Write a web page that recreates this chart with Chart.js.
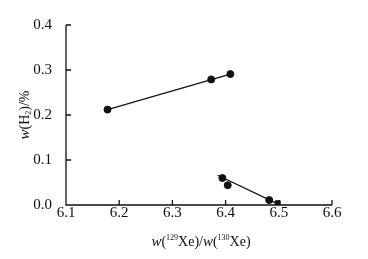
<!DOCTYPE html>
<html>
<head>
<meta charset="utf-8">
<script src="https://cdn.jsdelivr.net/npm/chart.js@4/dist/chart.umd.min.js"></script>
<style>
  html, body { margin: 0; padding: 0; background: #fff; }
  #wrap { width: 368px; height: 259px; }
</style>
</head>
<body>
<div id="wrap"><canvas id="c"></canvas></div>
<script>
// values
const upperX = [6.178, 6.373, 6.409];
const upperY = [0.212, 0.279, 0.291];
const lowerX = [6.394, 6.404, 6.482];
const lowerY = [0.060, 0.044, 0.011];
const squareX = [6.498];
const squareY = [0.004];
const upperFitX = [6.178, 6.409];
const upperFitY = [0.212, 0.291];
const lowerFitX = [6.385, 6.499];
const lowerFitY = [0.066, 0.002];
const xTicks = [6.1, 6.2, 6.3, 6.4, 6.5, 6.6];
const yTicks = [0.0, 0.1, 0.2, 0.3, 0.4];

const FONT = '"Liberation Serif", "DejaVu Serif", serif';
const pts = (xs, ys) => xs.map((x, i) => ({ x, y: ys[i] }));

// ticks point into the plot, axis titles mix italic and roman
const decor = {
  id: 'decor',
  afterDraw(chart) {
    const { ctx, chartArea: a, scales: { x, y } } = chart;
    ctx.save();
    ctx.strokeStyle = '#111';
    ctx.lineWidth = 1.3;
    ctx.beginPath();
    ctx.moveTo(a.left, a.top);
    ctx.lineTo(a.left, a.bottom);
    ctx.lineTo(a.right, a.bottom);
    for (const v of xTicks) {
      const px = x.getPixelForValue(v);
      ctx.moveTo(px, a.bottom);
      ctx.lineTo(px, a.bottom - 5);
    }
    for (const v of yTicks) {
      const py = y.getPixelForValue(v);
      ctx.moveTo(a.left, py);
      ctx.lineTo(a.left + 5, py);
    }
    ctx.stroke();

    ctx.fillStyle = '#111';
    ctx.textBaseline = 'alphabetic';
    const parts = [
      ['italic 15px ' + FONT, 'w'], ['14px ' + FONT, '('], ['8px ' + FONT, '129'],
      ['14px ' + FONT, 'Xe)/'], ['italic 15px ' + FONT, 'w'], ['14px ' + FONT, '('],
      ['8px ' + FONT, '130'], ['14px ' + FONT, 'Xe)']
    ];
    let w = 0;
    for (const [f, t] of parts) { ctx.font = f; w += ctx.measureText(t).width; }
    let cx = 201 - w / 2;
    for (const [f, t] of parts) {
      ctx.font = f;
      ctx.fillText(t, cx, f.startsWith('8px') ? 240 : 246);
      cx += ctx.measureText(t).width;
    }

    ctx.translate(29, 115);
    ctx.rotate(-Math.PI / 2);
    const yparts = [
      ['italic 15px ' + FONT, 'w'], ['14px ' + FONT, '(H'], ['8px ' + FONT, '2'],
      ['14px ' + FONT, ')/%']
    ];
    w = 0;
    for (const [f, t] of yparts) { ctx.font = f; w += ctx.measureText(t).width; }
    cx = -w / 2;
    for (const [f, t] of yparts) {
      ctx.font = f;
      ctx.fillText(t, cx, f.startsWith('8px') ? 2 : 0);
      cx += ctx.measureText(t).width;
    }
    ctx.restore();
  }
};

new Chart(document.getElementById('c'), {
  type: 'scatter',
  data: {
    datasets: [
      {
        data: pts(upperFitX, upperFitY), showLine: true, pointRadius: 0,
        borderColor: '#111', borderWidth: 1.2
      },
      {
        data: pts(lowerFitX, lowerFitY), showLine: true, pointRadius: 0,
        borderColor: '#111', borderWidth: 1.2
      },
      {
        data: pts(upperX, upperY), pointRadius: 3.5, pointStyle: 'circle',
        backgroundColor: '#111', borderColor: '#111'
      },
      {
        data: pts(lowerX, lowerY), pointRadius: 3.5, pointStyle: 'circle',
        backgroundColor: '#111', borderColor: '#111'
      },
      {
        data: pts(squareX, squareY), pointRadius: 3.5, pointStyle: 'rect',
        backgroundColor: '#111', borderColor: '#111'
      }
    ]
  },
  options: {
    responsive: true,
    maintainAspectRatio: false,
    animation: false,
    layout: { padding: { left: 0, top: 25, right: 36, bottom: 0 } },
    plugins: { legend: { display: false }, tooltip: { enabled: false } },
    scales: {
      x: {
        type: 'linear', min: 6.1, max: 6.6,
        afterBuildTicks: s => { s.ticks = xTicks.map(v => ({ value: v })); },
        afterFit: s => { s.height = 54; },
        border: { display: false },
        grid: { display: false },
        ticks: {
          padding: -9, color: '#111',
          font: { family: FONT, size: 15 },
          callback: v => v.toFixed(1)
        }
      },
      y: {
        min: 0, max: 0.4,
        afterBuildTicks: s => { s.ticks = yTicks.map(v => ({ value: v })); },
        afterFit: s => { s.width = 66; },
        border: { display: false },
        grid: { display: false },
        ticks: {
          padding: 6, color: '#111',
          font: { family: FONT, size: 15 },
          callback: v => v.toFixed(1)
        }
      }
    }
  },
  plugins: [decor]
});
</script>
</body>
</html>
